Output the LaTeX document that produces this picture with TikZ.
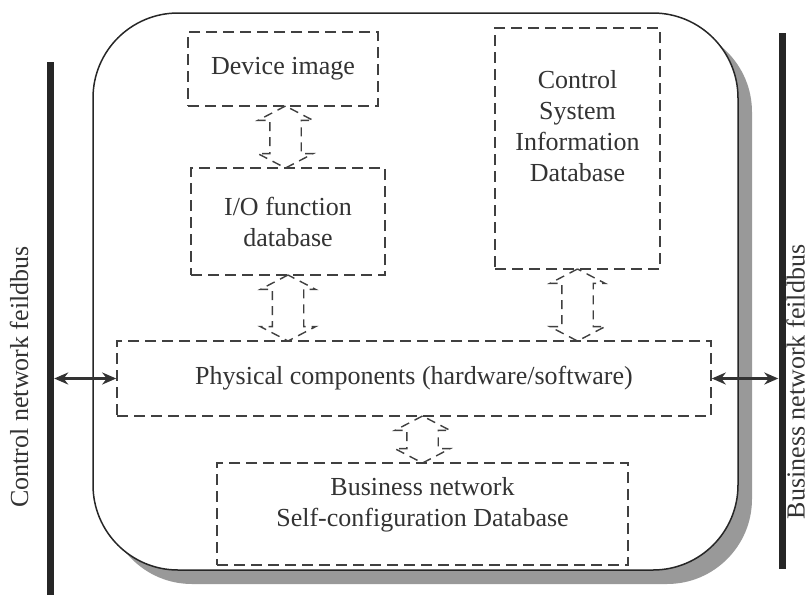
\documentclass[tikz,border=0pt]{standalone}
\usepackage{fontspec}
\setmainfont{Liberation Serif}
\usetikzlibrary{shapes.arrows,shadows,arrows.meta,calc}

\tikzset{
  dbox/.style={rectangle, draw=black!75, line width=1.6pt, dash pattern=on 11pt off 6pt, align=center, inner sep=0pt},
  dblarrow/.style={double arrow, draw=black!75, line width=1.4pt, dash pattern=on 9pt off 6pt, double arrow head extend=12pt, double arrow tip angle=125, inner xsep=0pt, inner ysep=15pt, rotate=90},
  busbar/.style={rectangle, fill=black!85, minimum width=7pt, inner sep=0pt},
  buslink/.style={{Stealth[length=14pt,width=12pt]}-{Stealth[length=14pt,width=12pt]}, line width=3pt, draw=black!80},
}

\begin{document}
\begin{tikzpicture}[x=1pt, y=-1pt, font=\fontsize{26}{31}\selectfont, text=black!80]
    \useasboundingbox (0,0) rectangle (812,598);
    % outer frame with shadow
    \node [draw=black!85, line width=1.5pt, fill=white, rounded corners=85pt, minimum width=645pt, minimum height=557pt, drop shadow={shadow xshift=14pt, shadow yshift=-14pt, fill=black!40, opacity=1}, name=frame] at (415.5, 291.5) {};
    % the two fieldbuses
    \node [busbar, minimum height=533pt, name=cbus] at (50.5, 328.5) {};
    \node [busbar, minimum height=536pt, name=bbus] at (782, 301) {};
    \node [rotate=90, name=cbus_lbl] at (19, 377) {Control network feildbus};
    \node [rotate=90, anchor=south, inner sep=0pt, name=bbus_lbl] at (805, 382) {Business network feildbus};
    % databases
    \node [dbox, minimum width=190pt, minimum height=74pt, name=dev_img] at (283, 69) {Device image};
    \node [dbox, minimum width=194pt, minimum height=107pt, name=io_db] at (288, 221.5) {I/O function\\database};
    \node [dbox, minimum width=165pt, minimum height=241pt, name=csid_db] at (577.5, 148.5) {};
    \node [align=center, name=csid_txt] at (577.5, 126) {Control\\System\\Information\\Database};
    \node [dbox, minimum width=594pt, minimum height=75pt, name=phys] at (414, 378.5) {Physical components (hardware/software)};
    \node [dbox, minimum width=411pt, minimum height=102pt, name=bus_db] at (422.5, 514) {};
    \node [align=center, name=bus_txt] at (422.5, 505) {Business network\\Self-configuration Database};
    % exchanges between them
    \node [dblarrow, minimum height=62pt, name=dev_io] at ($(dev_img.south)!0.5!(io_db.north)$) {};
    \node [dblarrow, minimum height=66pt, name=io_phys] at ($(io_db.south)!0.5!(io_db.south |- phys.north)$) {};
    \node [dblarrow, minimum height=72pt, name=csid_phys] at ($(csid_db.south)!0.5!(csid_db.south |- phys.north)$) {};
    \node [dblarrow, minimum height=47pt, name=phys_bus] at ($(bus_db.north)!0.5!(bus_db.north |- phys.south)$) {};
    \draw [buslink] (cbus.east |- phys.west) -- (phys.west);
    \draw [buslink] (phys.east) -- (bbus.west |- phys.east);
\end{tikzpicture}
\end{document}
